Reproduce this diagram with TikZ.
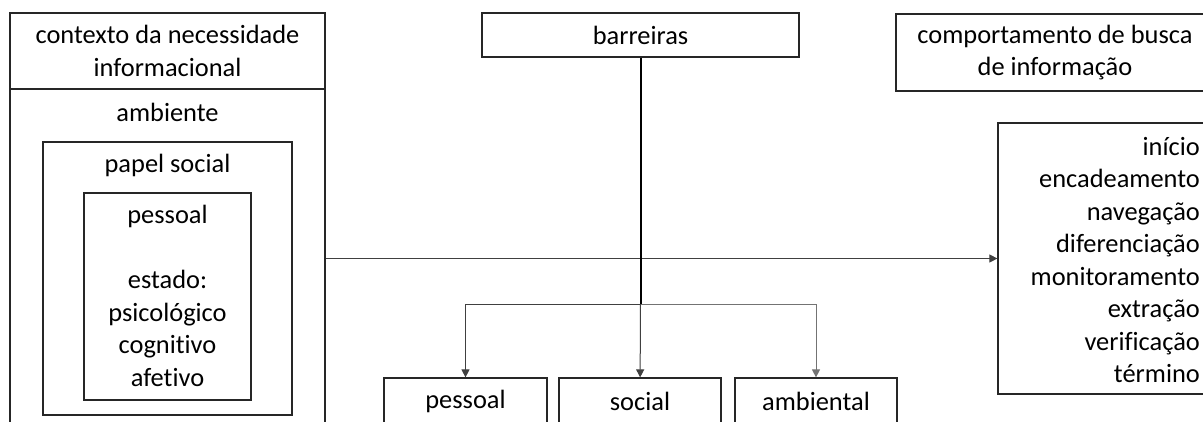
\documentclass[tikz,border=0pt]{standalone}
\usepackage{fontspec}
\setmainfont{Carlito}[Ligatures=NoCommon]
\usetikzlibrary{arrows.meta}
\tikzset{
  caixa/.style={draw=black!85, line width=1.2pt, inner sep=0pt},
  rotulo/.style={align=center, inner sep=0pt},
  liga/.style={draw=black!75, line width=1pt},
  seta/.style={liga, -{Triangle[length=8pt,width=8pt]}},
}
\begin{document}
\begin{tikzpicture}[x=1pt,y=-1pt,font=\fontsize{26.4}{32.5}\selectfont]
  \clip (0,0) rectangle (1203,421);
  % lado esquerdo
  \node[caixa, minimum width=315pt, minimum height=427pt] (contexto) at (167.5,226.5) {};
  \draw[caixa] (10,89) -- (325,89);
  \node[rotulo] (titulo) at (167.5,51) {contexto da necessidade\\informacional};
  \node[rotulo] (ambiente) at (167.5,112) {ambiente};
  \node[caixa, minimum width=249pt, minimum height=273pt] (papel) at (167.5,278.5) {};
  \node[rotulo] (papeltxt) at (167.5,165) {papel social};
  \node[caixa, minimum width=167pt, minimum height=207pt] (pessoal) at (167.5,296.5) {};
  \node[rotulo] (estado) at (167.5,296) {pessoal\\[32.5pt]estado:\\psicológico\\cognitivo\\afetivo};
  % meio
  \node[caixa, minimum width=317pt, minimum height=44pt] (barreiras) at (640.5,35) {barreiras};
  \node[caixa, minimum width=163pt, minimum height=46pt] (pessoalB) at (465.5,401) {pessoal};
  \node[caixa, minimum width=162pt, minimum height=46pt] (social) at (640,401) {social};
  \node[caixa, minimum width=162pt, minimum height=46pt] (ambiental) at (816,401) {ambiental};
  % lado direito
  \node[caixa, align=center, minimum width=318pt, minimum height=77pt] (busca) at (1055,52.5) {comportamento de busca\\de informação};
  \node[caixa, minimum width=216pt, minimum height=271pt] (etapas) at (1106,258.5) {};
  \node[rotulo, align=right, anchor=east] (lista) at (1200,260)
    {início\\encadeamento\\navegação\\diferenciação\\monitoramento\\extração\\verificação\\término};
  % ligacoes
  \coordinate (ramo) at (barreiras.south |- 0,304);
  \draw[seta] (contexto.east |- etapas.west) -- (etapas);
  \draw[line width=2pt] (barreiras) -- (ramo);
  \draw[seta] (ramo) -- (social);
  \draw[seta] (ramo) -| (pessoalB);
  \draw[seta, draw=black!55] (ramo) -| (ambiental);
\end{tikzpicture}
\end{document}
